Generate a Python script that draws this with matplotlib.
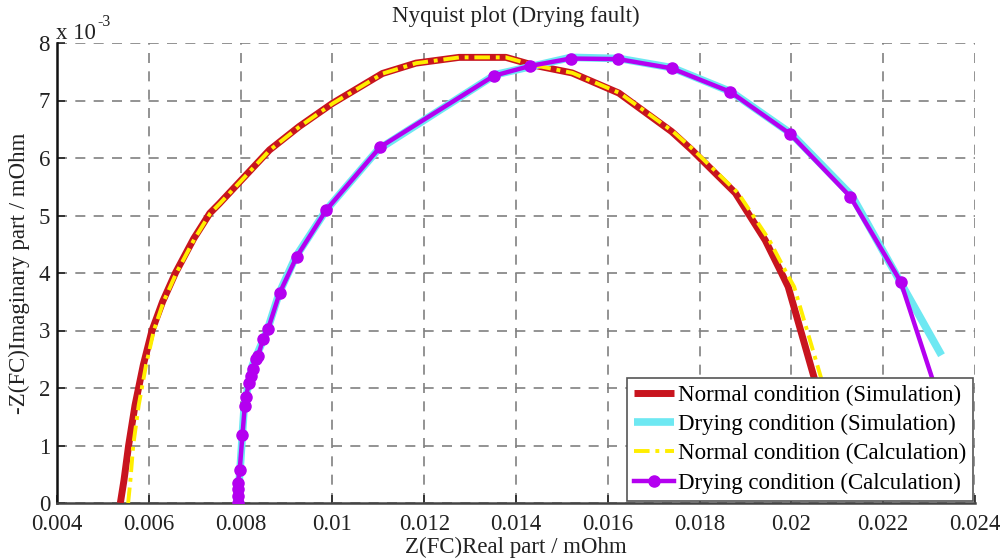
import matplotlib
matplotlib.use("Agg")
import matplotlib.pyplot as plt

# ---- data (y values in units of 1e-3 mOhm) ----
normal_sim_x = [0.00538, 0.00546, 0.00556, 0.00570, 0.00588, 0.00607, 0.00630, 0.00658, 0.00698,
                0.00733, 0.00754, 0.00863, 0.00928, 0.01000, 0.01109, 0.01182, 0.01276, 0.01378,
                0.01435, 0.01522, 0.01624, 0.01739, 0.01783, 0.01878, 0.01943, 0.01979, 0.01993,
                0.02051, 0.02080, 0.02100]
normal_sim_y = [0.00, 0.40, 1.00, 1.70, 2.40, 3.00, 3.50, 4.00, 4.60,
                5.04, 5.21, 6.14, 6.55, 6.95, 7.47, 7.65, 7.75, 7.75,
                7.62, 7.48, 7.13, 6.46, 6.14, 5.39, 4.57, 3.99, 3.76,
                2.14, 1.20, 0.40]

normal_calc_x = [0.00555, 0.00560, 0.00566, 0.00578, 0.00594, 0.00611, 0.00632, 0.00660, 0.00700,
                 0.00734, 0.00755, 0.00864, 0.00929, 0.01001, 0.01110, 0.01183, 0.01277, 0.01378,
                 0.01436, 0.01523, 0.01626, 0.01742, 0.01787, 0.01884, 0.01952, 0.01990, 0.02006,
                 0.02066, 0.02095, 0.02115]
normal_calc_y = normal_sim_y

drying_sim_x = [0.00793, 0.00799, 0.00808, 0.00826, 0.00858, 0.00884, 0.00920, 0.00987, 0.01100,
                0.01355, 0.01520, 0.01625, 0.01740, 0.01869, 0.02000, 0.02132, 0.02327]
drying_sim_y = [0.00, 0.60, 1.70, 2.40, 3.00, 3.65, 4.28, 5.10, 6.15,
                7.45, 7.75, 7.73, 7.57, 7.15, 6.42, 5.34, 2.57]

drying_calc_x = [0.00794, 0.00794, 0.00794, 0.00794, 0.00798, 0.00804, 0.00809, 0.00812, 0.00818,
                 0.00823, 0.00827, 0.00834, 0.00838, 0.00849, 0.00860, 0.00885, 0.00922, 0.00987,
                 0.01104, 0.01352, 0.01430, 0.01519, 0.01623, 0.01739, 0.01867, 0.01997, 0.02128,
                 0.02238, 0.02330, 0.02360]
drying_calc_y = [0.00, 0.12, 0.24, 0.35, 0.57, 1.18, 1.68, 1.85, 2.09,
                 2.21, 2.33, 2.50, 2.56, 2.85, 3.03, 3.65, 4.28, 5.10,
                 6.19, 7.43, 7.60, 7.73, 7.72, 7.56, 7.15, 6.42, 5.33,
                 3.85, 1.60, 0.80]

x_ticks = [0.004, 0.006, 0.008, 0.010, 0.012, 0.014, 0.016, 0.018, 0.020, 0.022, 0.024]
x_tick_labels = ["0.004", "0.006", "0.008", "0.01", "0.012", "0.014", "0.016",
                 "0.018", "0.02", "0.022", "0.024"]
y_ticks = [0, 1, 2, 3, 4, 5, 6, 7, 8]
y_tick_labels = ["0", "1", "2", "3", "4", "5", "6", "7", "8"]

labels = ["Normal condition (Simulation)", "Drying condition (Simulation)",
          "Normal condition (Calculation)", "Drying condition (Calculation)"]

plt.rcParams['font.family'] = ['Liberation Serif', 'DejaVu Serif']
FS = 16.5
TXT = '#222222'

fig = plt.figure(figsize=(10.06, 5.60), dpi=100)
ax = fig.add_axes([57/1006, 1-503/560, (975-57)/1006, (503-43)/560])

ax.plot(normal_sim_x, normal_sim_y, color='#c8141e', lw=5, label=labels[0], zorder=3,
        solid_capstyle='butt')
ax.plot(drying_sim_x, drying_sim_y, color='#6ee8f2', lw=5.5, label=labels[1], zorder=3,
        solid_capstyle='butt')
ax.plot(normal_calc_x, normal_calc_y, color='#ffee00', lw=2.8, ls=(0, (4, 1.5, 1, 1.5)),
        label=labels[2], zorder=4)
ax.plot(drying_calc_x, drying_calc_y, color='#b400f0', lw=3.2, marker='o', ms=8,
        markeredgecolor='#b400f0', label=labels[3], zorder=5)

ax.set_xlim(0.004, 0.024)
ax.set_ylim(0, 8)
ax.set_xticks(x_ticks)
ax.set_xticklabels(x_tick_labels)
ax.set_yticks(y_ticks)
ax.set_yticklabels(y_tick_labels)
ax.tick_params(direction='in', length=6, width=1.2, labelsize=FS, colors=TXT)
ax.tick_params(axis='x', pad=8)
ax.tick_params(axis='y', pad=5)

ax.grid(True, color='#808080', ls=(0, (6, 5)), lw=1.2)
ax.set_axisbelow(True)
for s in ['top', 'right']:
    ax.spines[s].set_visible(False)
ax.spines['left'].set_linewidth(1.8)
ax.spines['left'].set_color('#111111')
ax.spines['bottom'].set_linewidth(1.8)
ax.spines['bottom'].set_color('#444444')

ax.set_title("Nyquist plot (Drying fault)", fontsize=FS, color=TXT, pad=15)
ax.set_xlabel("Z(FC)Real part / mOhm", fontsize=FS, color=TXT, labelpad=1)
ax.set_ylabel("-Z(FC)Imaginary part / mOhm", fontsize=FS, color=TXT, labelpad=6)
fig.text(56/1006, 1-39/560, "x 10", fontsize=FS, color=TXT, ha='left', va='baseline')
fig.text(97/1006, 1-26/560, "-3", fontsize=11.5, color=TXT, ha='left', va='baseline')

leg = ax.legend(loc='lower right', fontsize=FS, frameon=True, fancybox=False,
                edgecolor='#555555', framealpha=1, handlelength=1.75, handletextpad=0.15,
                borderpad=0.3, labelspacing=0.36, borderaxespad=0.1)
leg.get_frame().set_linewidth(1.2)
leg.set_zorder(10)

fig.savefig("out.png", dpi=100)
